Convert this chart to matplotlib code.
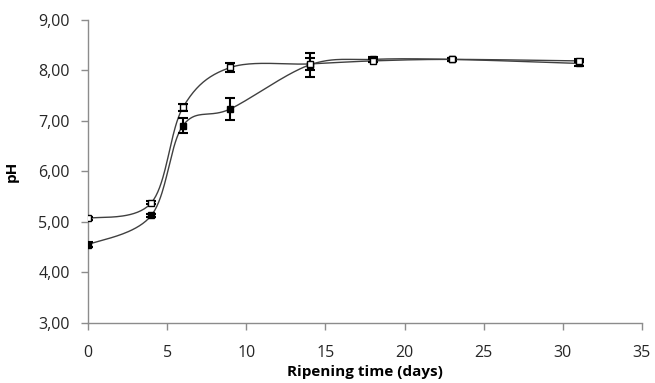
import numpy as np
import matplotlib
matplotlib.use("Agg")
import matplotlib.pyplot as plt
from matplotlib.ticker import FuncFormatter

days = [0, 4, 6, 9, 14, 18, 23, 31]
ph_open = [5.07, 5.38, 7.27, 8.06, 8.13, 8.19, 8.22, 8.19]
err_open = [0.03, 0.03, 0.07, 0.09, 0.12, 0.03, 0.03, 0.03]
ph_filled = [4.55, 5.13, 6.91, 7.24, 8.11, 8.22, 8.22, 8.14]
err_filled = [0.05, 0.03, 0.14, 0.22, 0.24, 0.05, 0.03, 0.05]

yticks = [3, 4, 5, 6, 7, 8, 9]
xticks = [0, 5, 10, 15, 20, 25, 30, 35]

plt.rcParams['font.family'] = ['Open Sans', 'DejaVu Sans']

fig = plt.figure(figsize=(6.55, 3.83), dpi=100)
ax = fig.add_axes([0.1344, 0.1567, 0.8456, 0.7911])
ax.set_xlim(0, 35)
ax.set_ylim(3, 9)

sx, sy = 15.83, 50.5


def smooth(x, y, n=40):
    # Excel-style smoothed line (Catmull-Rom Bezier) computed in screen-like units
    P = np.column_stack([np.asarray(x, float) * sx, np.asarray(y, float) * sy])
    out = []
    for i in range(len(P) - 1):
        p0 = P[i - 1] if i > 0 else P[i]
        p1, p2 = P[i], P[i + 1]
        p3 = P[i + 2] if i + 2 < len(P) else P[i + 1]
        c1 = p1 + (p2 - p0) / 6.0
        c2 = p2 - (p3 - p1) / 6.0
        t = np.linspace(0, 1, n)[:, None]
        seg = ((1 - t) ** 3) * p1 + 3 * ((1 - t) ** 2) * t * c1 + 3 * (1 - t) * t ** 2 * c2 + t ** 3 * p2
        out.append(seg if i == 0 else seg[1:])
    Q = np.vstack(out)
    return Q[:, 0] / sx, Q[:, 1] / sy


for yv, ev, fc in [(ph_filled, err_filled, 'black'), (ph_open, err_open, 'white')]:
    xs, ys = smooth(days, yv)
    ax.plot(xs, ys, color='#404040', lw=1.0, zorder=2)
    ax.errorbar(days, yv, yerr=ev, fmt='none', ecolor='black', elinewidth=1.5,
                capsize=3.5, capthick=1.5, zorder=3)
    ax.plot(days, yv, linestyle='none', marker='s', ms=5.0, mfc=fc, mec='black',
            mew=1.0, zorder=4)

ax.set_xticks(xticks)
ax.set_yticks(yticks)
ax.yaxis.set_major_formatter(FuncFormatter(lambda v, p: f"{v:.2f}".replace('.', ',')))
for s in ['top', 'right']:
    ax.spines[s].set_visible(False)
for s in ['left', 'bottom']:
    ax.spines[s].set_color('#8c8c8c')
    ax.spines[s].set_linewidth(1.0)
ax.tick_params(axis='both', direction='out', length=5, color='#8c8c8c', width=1.0,
               labelsize=11.5, labelcolor='#262626')
ax.tick_params(axis='x', pad=11)
ax.tick_params(axis='y', pad=8)
ax.set_xlabel('Ripening time (days)', fontsize=11, fontweight='bold', labelpad=3)
ax.set_ylabel('pH', fontsize=11, fontweight='bold', labelpad=14)

fig.savefig('out.png', dpi=100)
